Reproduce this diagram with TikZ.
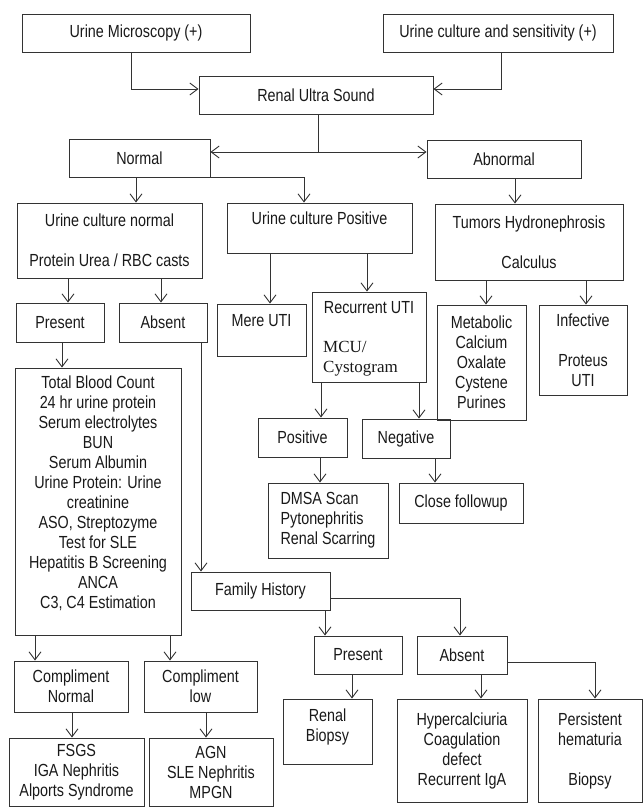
\documentclass[tikz,border=0pt]{standalone}
\usepackage{fontspec}
\setmainfont{Liberation Sans}[FakeStretch=0.82]
\newfontfamily\mcufont{Liberation Serif}
\usetikzlibrary{arrows.meta}
\tikzset{
 box/.style={draw=black!80, line width=0.9pt, inner sep=0pt, align=center, font=\fontsize{17.5}{20}\selectfont, text=black!90},
 txt/.style={inner sep=0pt, align=center, font=\fontsize{17.5}{20}\selectfont, text=black!90},
 ln/.style={draw=black!80, line width=0.9pt},
 arr/.style={ln, -{Straight Barb[length=8pt,width=12pt]}},
 darr/.style={ln, {Straight Barb[length=8pt,width=12pt]}-{Straight Barb[length=8pt,width=12pt]}},
}
\newcommand\mybox[7][]{\node[box,#1, minimum width={(#5-#3)*1pt}, minimum height={(#6-#4)*1pt}] (#2) at ({(#3+#5)/2},{(#4+#6)/2}) {#7};}
\begin{document}
\begin{tikzpicture}[x=1pt,y=-1pt]
\useasboundingbox (0,0) rectangle (644,809);
\mybox{um}{22}{14}{250}{52}{Urine Microscopy (+)}
\mybox{ucs}{383}{14}{613}{52}{Urine culture and sensitivity (+)}
\mybox{rus}{199}{76}{433}{114}{Renal Ultra Sound}
\mybox{nor}{69}{139}{210}{177}{Normal}
\mybox{abn}{427}{140}{581}{178}{Abnormal}
\mybox{ucn}{17}{203}{202}{278}{Urine culture normal\\[20pt]Protein Urea / RBC casts}
\mybox{ucp}{227}{203}{412}{253}{Urine culture Positive\\~}
\mybox{tum}{435}{204}{623}{280}{Tumors Hydronephrosis\\[20pt]Calculus}
\mybox{pre1}{16}{303}{104}{342}{Present}
\mybox{abs1}{119}{303}{207}{342}{Absent}
\mybox{mere}{217}{304}{306}{356}{Mere UTI\\~}
\mybox{rec}{312}{292}{426}{382}{}
\mybox{met}{437}{305}{526}{420}{Metabolic\\Calcium\\Oxalate\\Cystene\\Purines}
\mybox{inf}{539}{305}{627}{395}{Infective\\[20pt]Proteus\\UTI}
\mybox{big}{15}{368}{181}{635}{}
\mybox{pos}{258}{418}{347}{457}{Positive}
\mybox{neg}{362}{419}{450}{458}{Negative}
\mybox[align=left]{dmsa}{268}{483}{388}{558}{DMSA Scan\\Pytonephritis\\Renal Scarring}
\mybox{cfu}{399}{483}{523}{523}{Close followup}
\mybox{fh}{191}{572}{330}{610}{Family History}
\mybox{pre3}{314}{636}{402}{674}{Present}
\mybox{abs3}{417}{636}{507}{674}{Absent}
\mybox{rb}{283}{699}{372}{764}{}
\mybox{hyp}{397}{699}{527}{802}{Hypercalciuria\\Coagulation\\defect\\Recurrent IgA}
\mybox{per}{538}{699}{642}{802}{Persistent\\hematuria\\[20pt]Biopsy}
\mybox{cn}{14}{661}{128}{712}{Compliment\\Normal}
\mybox{cl}{144}{661}{257}{712}{Compliment\\low}
\mybox{fsgs}{9}{738}{144}{806}{FSGS\\IGA Nephritis\\Alports Syndrome}
\mybox{agn}{149}{738}{273}{806}{AGN\\SLE Nephritis\\MPGN}
% separate texts
\node[txt] (rect) at (369,308) {Recurrent UTI};
\node[txt, anchor=west, align=left, font=\mcufont\fontsize{17}{20}\selectfont] (mcut) at (323,359) {MCU/\\Cystogram};
\node[txt] (bigt) at (98,493) {Total Blood Count\\24 hr urine protein\\Serum electrolytes\\BUN\\Serum Albumin\\Urine Protein: Urine\\creatinine\\ASO, Streptozyme\\Test for SLE\\Hepatitis B Screening\\ANCA\\C3, C4 Estimation};
\node[txt] (rbt) at (327.5,727) {Renal\\Biopsy};
% connectors
\draw[arr] (131,0 |- um.south) |- (rus.west |- 0,89);
\draw[arr] (501,0 |- ucs.south) |- (rus.east |- 0,89);
\coordinate (j1) at (318,152);
\draw[ln] (318,0 |- rus.south) -- (j1);
\draw[darr] (nor.east |- j1) -- (abn.west |- j1);
\draw[arr] (136,0 |- nor.south) -- (136,0 |- ucn.north);
\draw[arr] (nor.south east) -| (304,0 |- ucp.north);
\draw[arr] (515,0 |- abn.south) -- (515,0 |- tum.north);
\draw[arr] (68,0 |- ucn.south) -- (68,0 |- pre1.north);
\draw[arr] (161,0 |- ucn.south) -- (161,0 |- abs1.north);
\draw[arr] (62,0 |- pre1.south) -- (62,0 |- big.north);
\draw[arr] (201,0 |- abs1.south) -- (201,0 |- fh.north);
\draw[arr] (270,0 |- ucp.south) -- (270,0 |- mere.north);
\draw[arr] (367,0 |- ucp.south) -- (367,0 |- rec.north);
\draw[arr] (486,0 |- tum.south) -- (486,0 |- met.north);
\draw[arr] (586,0 |- tum.south) -- (586,0 |- inf.north);
\draw[arr] (321,0 |- rec.south) -- (321,0 |- pos.north);
\draw[arr] (419,0 |- rec.south) -- (419,0 |- neg.north);
\draw[arr] (320,0 |- pos.south) -- (320,0 |- dmsa.north);
\draw[arr] (435,0 |- neg.south) -- (435,0 |- cfu.north);
\draw[arr] (35,0 |- big.south) -- (35,0 |- cn.north);
\draw[arr] (170,0 |- big.south) -- (170,0 |- cl.north);
\draw[arr] (72,0 |- cn.south) -- (72,0 |- fsgs.north);
\draw[arr] (206,0 |- cl.south) -- (206,0 |- agn.north);
\draw[arr] (325,0 |- fh.south) -- (325,0 |- pre3.north);
\draw[arr] (fh.east |- 0,598) -| (460,0 |- abs3.north);
\draw[arr] (352,0 |- pre3.south) -- (352,0 |- rb.north);
\draw[arr] (481,0 |- abs3.south) -- (481,0 |- hyp.north);
\draw[arr] (abs3.east |- 0,662) -| (595,0 |- per.north);
\end{tikzpicture}
\end{document}
